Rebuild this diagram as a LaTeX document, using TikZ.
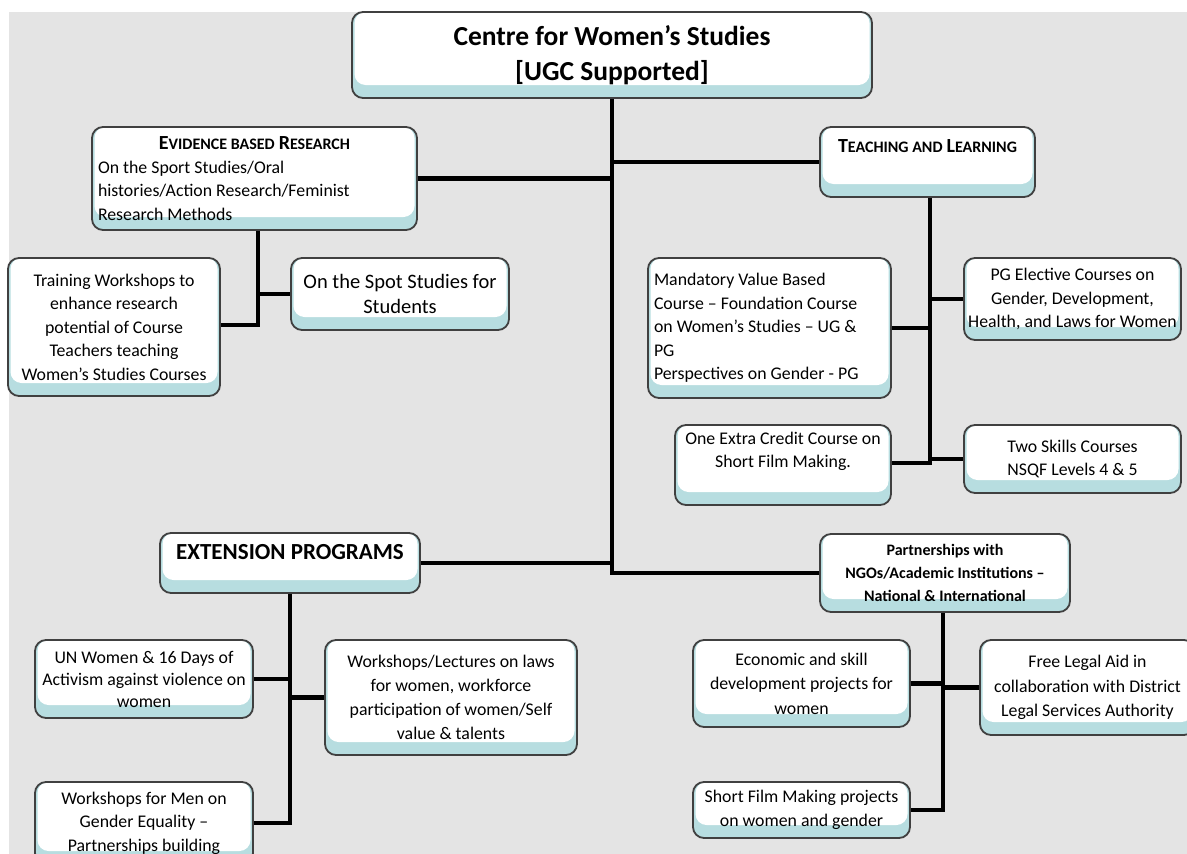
\documentclass[tikz,border=0pt]{standalone}
\usepackage{fontspec}
\setmainfont{Carlito}
\usepackage{tikz}
\usetikzlibrary{calc}
\definecolor{pagegrey}{HTML}{E4E4E4}
\definecolor{boxteal}{HTML}{B7DDE0}
\definecolor{boxedge}{HTML}{404040}
\newcommand{\bodyfont}{\fontsize{17.8}{23.5}\selectfont}
\newcommand{\titlefont}{\fontsize{27.5}{35}\selectfont\bfseries}
\newcommand{\headfont}{\fontsize{23}{28}\selectfont\bfseries}
\newcommand{\partfont}{\fontsize{16}{23}\selectfont\bfseries}
\newcommand{\fakesc}[2]{{\fontsize{20}{23.5}\selectfont #1}{\fontsize{16}{23.5}\selectfont #2}}
\tikzset{
    box/.style={draw=boxedge, line width=1.8pt, rounded corners=11pt, fill=boxteal,
        inner sep=0pt, align=center, font=\bodyfont,
        path picture={\fill[white] ([xshift=2.5pt]path picture bounding box.north west)
            rectangle ([xshift=-2.5pt,yshift=13pt]path picture bounding box.south east);}},
    link/.style={line width=4.2pt, black}
}

\begin{document}
\begin{tikzpicture}[x=1pt, y=-1pt]
    \clip (0,0) rectangle (1187,854);
    \fill[white] (0,0) rectangle (1187,854);
    \fill[pagegrey] (9,12) rectangle (1187,854);

    % centre
    \node[box, minimum width=520pt, minimum height=86pt, font=\titlefont] (root) at (612,55) {Centre for Women’s Studies\\{}[UGC Supported]};

    % research
    \node[box, minimum width=325pt, minimum height=103pt, text width=313pt, align=flush left] (research) at (254.5,178.5)
        {\makebox[313pt]{\textbf{\fakesc{E}{VIDENCE BASED} \fakesc{R}{ESEARCH}}}\\On the Sport Studies/Oral\\histories/Action Research/Feminist\\Research Methods};
    \node[box, minimum width=212pt, minimum height=138pt] (training) at (114,327) {Training Workshops to\\enhance research\\potential of Course\\Teachers teaching\\Women’s Studies Courses};
    \node[box, minimum width=218pt, minimum height=72pt, font=\fontsize{20.5}{25}\selectfont] (spotstudies) at (400,294) {On the Spot Studies for\\Students};

    % teaching
    \node[box, minimum width=215pt, minimum height=70pt, text depth=32pt] (teaching) at (927.5,162) {\textbf{\fakesc{T}{EACHING AND} \fakesc{L}{EARNING}}};
    \node[box, minimum width=243pt, minimum height=140pt, text width=231pt, align=flush left] (mandatory) at (769.5,328)
        {Mandatory Value Based\\Course – Foundation Course\\on Women’s Studies – UG \&\\PG\\Perspectives on Gender - PG};
    \node[box, minimum width=217pt, minimum height=82pt] (elective) at (1072.5,299) {PG Elective Courses on\\Gender, Development,\\Health, and Laws for Women};
    \node[box, minimum width=216pt, minimum height=80pt] (extracredit) at (783,465) {One Extra Credit Course on\\Short Film Making.\\[7pt]\mbox{}};
    \node[box, minimum width=217pt, minimum height=68pt] (skills) at (1072.5,459) {Two Skills Courses\\NSQF Levels 4 \& 5};

    % extension
    \node[box, minimum width=260pt, minimum height=60pt, font=\headfont, text depth=22pt] (extension) at (290,563) {EXTENSION PROGRAMS};
    \node[box, minimum width=218pt, minimum height=78pt, font=\fontsize{17.8}{22}\selectfont] (unwomen) at (144,679) {UN Women \& 16 Days of\\Activism against violence on\\women};
    \node[box, minimum width=252pt, minimum height=115pt, font=\fontsize{17.8}{24}\selectfont] (lectures) at (451,697.5) {Workshops/Lectures on laws\\for women, workforce\\participation of women/Self\\value \& talents};
    \node[box, minimum width=218pt, minimum height=82pt] (menworkshops) at (144,823) {Workshops for Men on\\Gender Equality –\\Partnerships building};

    % partnerships
    \node[box, minimum width=250pt, minimum height=78pt, font=\partfont] (partnerships) at (945,573) {Partnerships with\\NGOs/Academic Institutions –\\National \& International};
    \node[box, minimum width=217pt, minimum height=87pt, font=\fontsize{17.8}{24.5}\selectfont] (economic) at (801.5,683.5) {Economic and skill\\development projects for\\women};
    \node[box, minimum width=215pt, minimum height=95pt, font=\fontsize{17.8}{24.5}\selectfont] (legalaid) at (1087.5,687.5) {Free Legal Aid in\\collaboration with District\\Legal Services Authority};
    \node[box, minimum width=217pt, minimum height=56pt] (shortfilm) at (801.5,810) {Short Film Making projects\\on women and gender};

    % trunk
    \draw[link] (root.south) -- (root.south |- partnerships.west) -- (partnerships.west);
    \draw[link] (research.east) -- (research.east -| root.south);
    \draw[link] (root.south |- teaching.west) -- (teaching.west);
    \draw[link] (extension.east) -- (extension.east -| root.south);

    % research branch
    \coordinate (resbus) at (258,325);
    \draw[link] (research.south -| resbus) -- (resbus) -- (resbus -| training.east);
    \draw[link] (resbus |- spotstudies.west) -- (spotstudies.west);

    % teaching branch
    \coordinate (teachbus) at (930,463);
    \draw[link] (teaching.south -| teachbus) -- (teachbus) -- (teachbus -| extracredit.east);
    \draw[link] (mandatory.east) -- (mandatory.east -| teachbus);
    \draw[link] (teachbus |- elective.west) -- (elective.west);
    \draw[link] (teachbus |- skills.west) -- (skills.west);

    % extension branch
    \coordinate (extbus) at (290,823);
    \draw[link] (extension.south) -- (extbus) -- (menworkshops.east);
    \draw[link] (unwomen.east) -- (unwomen.east -| extbus);
    \draw[link] (extbus |- lectures.west) -- (lectures.west);

    % partnership branch
    \coordinate (partbus) at (943,810);
    \draw[link] (partnerships.south -| partbus) -- (partbus) -- (shortfilm.east);
    \draw[link] (economic.east) -- (economic.east -| partbus);
    \draw[link] (partbus |- legalaid.west) -- (legalaid.west);
\end{tikzpicture}
\end{document}
